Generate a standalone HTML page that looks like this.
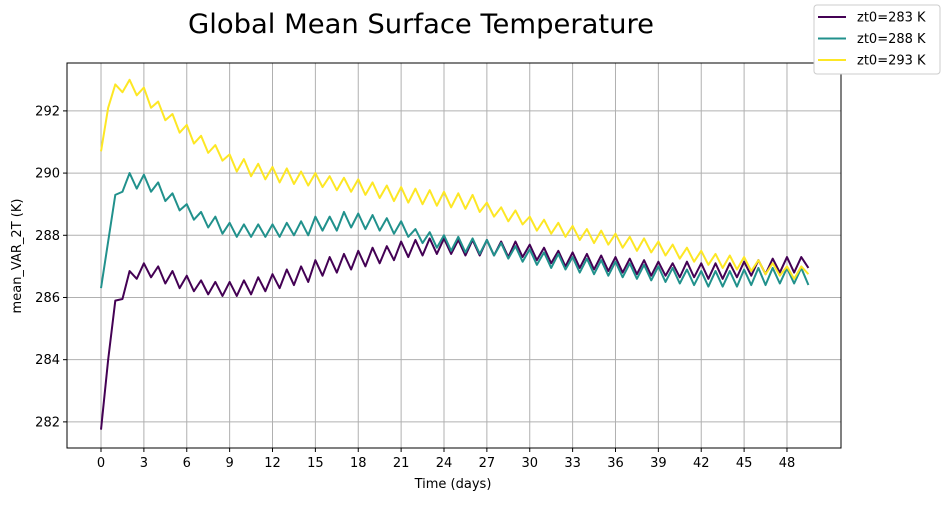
<!DOCTYPE html>
<html><head><meta charset="utf-8"><style>
body{margin:0;background:#fff;font-family:"Liberation Sans","DejaVu Sans",sans-serif}
</style></head><body>
<svg id="chart" width="944" height="501" xmlns="http://www.w3.org/2000/svg" font-family="DejaVu Sans, Liberation Sans, sans-serif">
<text x="421" y="33" font-size="27" text-anchor="middle" fill="#000" textLength="466" lengthAdjust="spacingAndGlyphs">Global Mean Surface Temperature</text>
<g id="grid"></g>
<g id="series"></g>
<rect x="67" y="63" width="774" height="385" fill="none" stroke="#000" stroke-width="1"/>
<g id="axes"></g>
<text x="453" y="488" font-size="13" text-anchor="middle">Time (days)</text>
<text transform="translate(21,256) rotate(-90)" font-size="13" text-anchor="middle">mean_VAR_2T (K)</text>
<g id="legend">
<rect x="814" y="5" width="126" height="69" rx="3" fill="#fff" stroke="#ccc"/>
</g>
</svg>
<script>
const xTicks=[0,3,6,9,12,15,18,21,24,27,30,33,36,39,42,45,48];
const yTicks=[282,284,286,288,290,292];
const seriesNames=["zt0=283 K","zt0=288 K","zt0=293 K"];
const colors=["#440154","#21918c","#fde725"];
const peaks283=[281.75,285.9,286.85,287.1,287.0,286.85,286.7,286.55,286.5,286.5,286.55,286.65,286.75,286.9,287.0,287.2,287.3,287.4,287.5,287.6,287.65,287.8,287.85,287.9,287.9,287.85,287.85,287.85,287.8,287.8,287.7,287.6,287.5,287.45,287.4,287.35,287.3,287.25,287.2,287.15,287.1,287.15,287.1,287.1,287.1,287.15,287.2,287.25,287.3,287.3];
const troughs283=[284.0,285.95,286.6,286.65,286.45,286.3,286.2,286.1,286.05,286.05,286.1,286.2,286.3,286.4,286.5,286.7,286.8,286.9,287.0,287.1,287.2,287.3,287.35,287.4,287.4,287.35,287.35,287.35,287.3,287.3,287.2,287.1,287.0,286.95,286.9,286.85,286.8,286.75,286.7,286.7,286.65,286.65,286.6,286.6,286.65,286.7,286.75,286.8,286.8,286.95];
const peaks288=[286.3,289.3,290.0,289.95,289.7,289.35,289.0,288.75,288.6,288.4,288.35,288.35,288.35,288.4,288.45,288.6,288.6,288.75,288.7,288.65,288.55,288.45,288.2,288.1,288.0,287.95,287.9,287.85,287.75,287.65,287.55,287.45,287.4,287.3,287.25,287.2,287.15,287.1,287.05,287.0,286.95,286.9,286.85,286.85,286.85,286.9,286.95,286.95,286.95,286.95];
const troughs288=[287.8,289.4,289.5,289.4,289.1,288.8,288.5,288.25,288.05,287.95,287.95,287.95,287.95,288.0,288.0,288.15,288.15,288.25,288.2,288.15,288.05,287.95,287.75,287.6,287.5,287.45,287.4,287.35,287.25,287.15,287.05,286.95,286.9,286.8,286.75,286.7,286.65,286.6,286.55,286.5,286.45,286.4,286.35,286.35,286.35,286.4,286.4,286.45,286.45,286.4];
const peaks293=[290.7,292.85,293.0,292.75,292.3,291.9,291.55,291.2,290.9,290.6,290.45,290.3,290.2,290.15,290.05,290.0,289.9,289.85,289.8,289.7,289.6,289.55,289.5,289.45,289.4,289.35,289.3,289.05,288.9,288.8,288.6,288.5,288.4,288.3,288.2,288.15,288.05,287.95,287.9,287.8,287.7,287.6,287.5,287.4,287.35,287.3,287.2,287.1,287.0,287.0];
const troughs293=[292.1,292.6,292.5,292.1,291.7,291.3,290.95,290.65,290.4,290.05,289.9,289.8,289.7,289.65,289.6,289.55,289.45,289.4,289.3,289.2,289.1,289.05,289.0,288.95,288.9,288.85,288.75,288.6,288.45,288.35,288.15,288.05,287.95,287.85,287.75,287.7,287.6,287.5,287.45,287.35,287.25,287.15,287.05,286.95,286.9,286.85,286.75,286.7,286.6,286.75];

const NS="http://www.w3.org/2000/svg";
const X0=67,X1=841,Y0=63,Y1=448;
const xMin=-2.38,xMax=51.78,yMin=281.16,yMax=293.54;
function xs(v){return X0+(v-xMin)/(xMax-xMin)*(X1-X0);}
function ys(v){return Y1-(v-yMin)/(yMax-yMin)*(Y1-Y0);}
function mk(tag,attrs,parent){const e=document.createElementNS(NS,tag);for(const k in attrs)e.setAttribute(k,attrs[k]);parent.appendChild(e);return e;}
const grid=document.getElementById('grid'),axes=document.getElementById('axes'),ser=document.getElementById('series'),leg=document.getElementById('legend');
xTicks.forEach(t=>{const x=xs(t);
 const g=mk('line',{x1:x,x2:x,y1:Y0,y2:Y1,stroke:'#b0b0b0','stroke-width':1},grid);
 
 
 mk('line',{x1:x,x2:x,y1:Y1,y2:Y1+4,stroke:'#000'},axes);
 const l=mk('text',{x:x,y:Y1+19,'font-size':13,'text-anchor':'middle'},axes);l.textContent=t;
 
 
});
yTicks.forEach(t=>{const y=ys(t);
 const g=mk('line',{x1:X0,x2:X1,y1:y,y2:y,stroke:'#b0b0b0','stroke-width':1},grid);
 
 
 mk('line',{x1:X0-4,x2:X0,y1:y,y2:y,stroke:'#000'},axes);
 const l=mk('text',{x:X0-7,y:y+4.5,'font-size':13,'text-anchor':'end'},axes);l.textContent=t;
 
 
});
const data=[[peaks283,troughs283],[peaks288,troughs288],[peaks293,troughs293]];
data.forEach((d,si)=>{
 let pts=[];
 for(let i=0;i<d[0].length;i++){pts.push(xs(i)+','+ys(d[0][i]));pts.push(xs(i+0.5)+','+ys(d[1][i]));}
 const p=mk('polyline',{points:pts.join(' '),fill:'none',stroke:colors[si],'stroke-width':2,'stroke-linejoin':'round'},ser);
 
 
 const y=17+si*21.5;
 const ll=mk('line',{x1:818,x2:846,y1:y,y2:y,stroke:colors[si],'stroke-width':2},leg);
 
 
 const lt=mk('text',{x:857,y:y+4.5,'font-size':13},leg);lt.textContent=seriesNames[si];
 
 
});
</script>
</body></html>
